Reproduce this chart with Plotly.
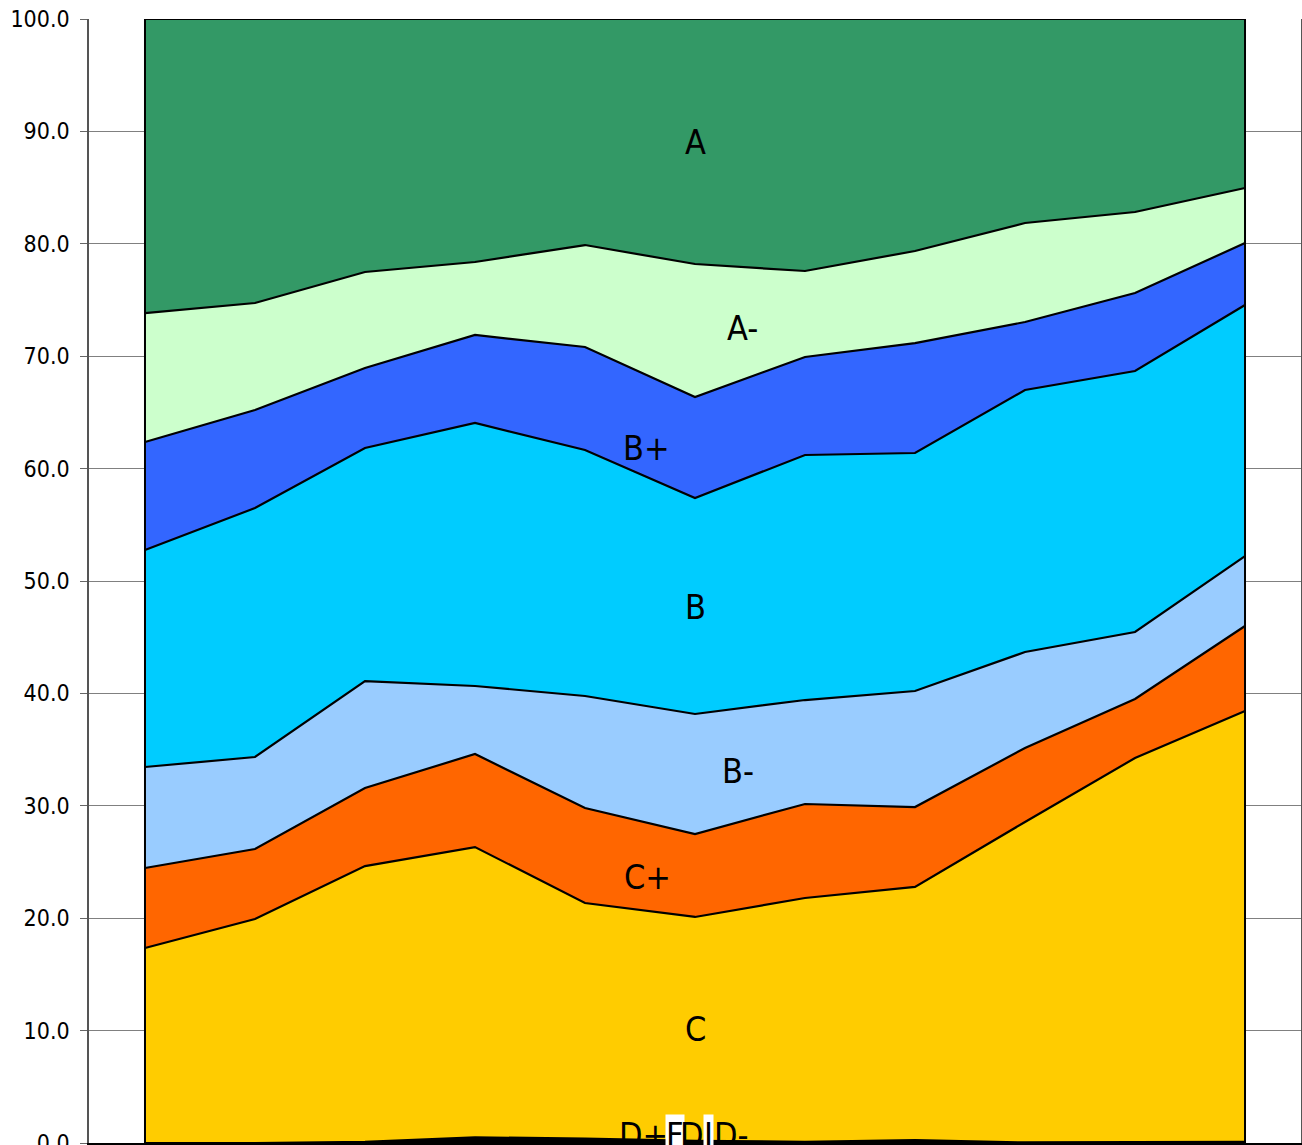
import plotly.graph_objects as go

# ---- data (percent of grades per period; 11 periods) ----
periods = ["P1", "P2", "P3", "P4", "P5", "P6", "P7", "P8", "P9", "P10", "P11"]

grade_I = [0.00, 0.00, 0.00, 0.00, 0.00, 0.00, 0.00, 0.00, 0.00, 0.00, 0.00]
grade_F = [0.00, 0.00, 0.00, 0.05, 0.05, 0.00, 0.00, 0.00, 0.00, 0.00, 0.00]
grade_Dm = [0.00, 0.00, 0.00, 0.10, 0.05, 0.05, 0.00, 0.05, 0.00, 0.00, 0.00]
grade_D = [0.00, 0.00, 0.05, 0.15, 0.15, 0.05, 0.05, 0.10, 0.05, 0.05, 0.05]
grade_Dp = [0.00, 0.00, 0.05, 0.20, 0.15, 0.10, 0.05, 0.10, 0.00, 0.00, 0.05]
grade_C = [17.35, 19.93, 24.54, 25.83, 20.95, 19.91, 21.70, 22.53, 28.51, 34.20, 38.33]
grade_Cp = [7.12, 6.23, 6.94, 8.28, 8.45, 7.38, 8.36, 7.11, 6.58, 5.25, 7.57]
grade_Bm = [8.98, 8.18, 9.52, 6.05, 9.97, 10.68, 9.25, 10.32, 8.54, 5.96, 6.22]
grade_B = [19.31, 22.15, 20.73, 23.40, 21.88, 19.21, 21.80, 21.18, 23.31, 23.22, 22.34]
grade_Bp = [9.61, 8.72, 7.12, 7.83, 9.17, 8.99, 8.72, 9.78, 6.05, 6.94, 5.51]
grade_Am = [11.47, 9.52, 8.54, 6.49, 9.07, 11.83, 7.65, 8.19, 8.81, 7.21, 4.89]
grade_A = [26.16, 25.27, 22.51, 21.62, 20.11, 21.80, 22.42, 20.64, 18.15, 17.17, 15.04]

series_names = ["I", "F", "D-", "D", "D+", "C", "C+", "B-", "B", "B+", "A-", "A"]
series_values = [grade_I, grade_F, grade_Dm, grade_D, grade_Dp, grade_C, grade_Cp,
                 grade_Bm, grade_B, grade_Bp, grade_Am, grade_A]
series_colors = ["#000000", "#000000", "#111111", "#111111", "#000000", "#FFCC00",
                 "#FF6600", "#99CCFF", "#00CCFF", "#3366FF", "#CCFFCC", "#339966"]

y_ticks = [0, 10, 20, 30, 40, 50, 60, 70, 80, 90, 100]

# label placement (category index, value) and whether the label has a white box
label_text = ["A", "A-", "B+", "B", "B-", "C+", "C", "D+", "F", "D", "I", "D-"]
label_x = [5.0, 5.43, 4.56, 5.0, 5.39, 4.57, 5.0, 4.53, 4.82, 4.97, 5.12, 5.33]
label_y = [89.06, 72.5, 61.83, 47.69, 33.1, 23.67, 10.14, 0.75, 0.75, 0.75, 0.75, 0.75]
label_box = [False, False, False, False, False, False, False, False, True, False, True, False]

FONT = "DejaVu Sans Condensed, DejaVu Sans, sans-serif"

xs = list(range(len(periods)))

fig = go.Figure()
for name, vals, col in zip(series_names, series_values, series_colors):
    fig.add_trace(go.Scatter(
        x=xs, y=vals, name=name, mode="lines",
        stackgroup="one", fillcolor=col,
        line=dict(color="black", width=2.2, shape="linear"),
        hoverinfo="skip",
    ))

# vertical outline edges of the stacked area
for xe in (xs[0], xs[-1]):
    fig.add_shape(type="line", x0=xe, x1=xe, y0=0, y1=100, xref="x", yref="y",
                  line=dict(color="black", width=2), layer="above")

for t, lx, ly, box in zip(label_text, label_x, label_y, label_box):
    fig.add_annotation(
        x=lx, y=ly, xref="x", yref="y", text=t, showarrow=False,
        xanchor="center", yanchor="middle",
        font=dict(family=FONT, size=34, color="black"),
        bgcolor="white" if box else "rgba(0,0,0,0)", borderpad=0,
    )

fig.update_layout(
    width=1302, height=1145,
    margin=dict(l=89, r=1, t=19, b=2, autoexpand=False),
    paper_bgcolor="white", plot_bgcolor="white",
    showlegend=False,
    font=dict(family=FONT, color="black"),
)
fig.update_xaxes(
    range=[-0.509, 10.509], showticklabels=False, ticks="",
    showgrid=False, zeroline=False, automargin=False,
    showline=True, linecolor="black", linewidth=2,
)
fig.update_yaxes(
    range=[0, 100], tickvals=y_ticks, tickformat=".1f",
    ticks="outside", ticklen=7, tickcolor="#666666", tickwidth=1,
    ticklabelstandoff=6, ticklabeloverflow="allow", automargin=False,
    tickfont=dict(family=FONT, size=23, color="black"),
    showgrid=True, gridcolor="#808080", gridwidth=1,
    zeroline=False,
    showline=True, linecolor="#555555", linewidth=1.5, mirror=True,
)

fig.write_html(
    "out.html",
    config={"displayModeBar": False},
    post_script="document.body.style.margin='0';document.body.style.overflow='hidden';",
)
